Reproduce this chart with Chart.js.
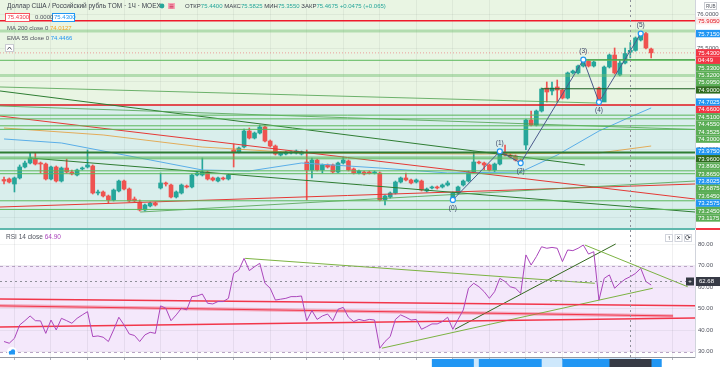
<!DOCTYPE html>
<html>
<head>
<meta charset="utf-8">
<script src="https://cdn.jsdelivr.net/npm/chart.js@4.4.1/dist/chart.umd.min.js"></script>
<style>
  body { margin: 0; background: #fff; overflow: hidden; }
  canvas { display: block; }
</style>
</head>
<body>
<canvas id="priceChart" width="720" height="230"></canvas>
<canvas id="rsiChart" width="720" height="137"></canvas>
<script>
// hourly candles, USD/RUB TOM
const opens = [
  73.559,73.567,73.493,73.582,73.744,73.803,73.862,73.803,73.788,73.567,
  73.744,73.537,73.729,73.670,73.626,73.715,73.744,73.759,73.360,73.375,
  73.316,73.257,73.390,73.537,73.419,73.271,73.227,73.109,73.168,73.212,
  73.434,73.508,73.478,73.301,73.360,73.463,73.449,73.626,73.626,73.670,
  73.582,73.537,73.582,73.567,73.995,73.966,74.040,74.276,74.172,74.246,
  74.335,74.128,74.054,73.921,73.936,73.951,73.951,73.936,73.818,73.700,
  73.847,73.700,73.774,73.774,73.670,73.803,73.833,73.715,73.655,73.670,
  73.670,73.655,73.655,73.257,73.301,73.360,73.522,73.582,73.552,73.522,
  73.537,73.390,73.434,73.449,73.449,73.478,73.257,73.360,73.478,73.537,
  73.670,73.818,73.803,73.774,73.700,73.788,73.951,73.921,73.907,73.847,
  74.069,74.438,74.364,74.571,74.911,74.867,74.926,74.881,74.763,75.133,
  75.133,75.236,75.310,75.236,74.911,74.704,75.221,75.398,75.103,75.280,
  75.440,75.467,75.620,75.715,75.487
];
const highs = [
  73.596,73.582,73.596,73.774,73.833,73.951,73.951,73.818,73.803,73.759,
  73.759,73.744,73.862,73.700,73.715,73.744,73.995,73.774,73.404,73.390,
  73.330,73.419,73.552,73.552,73.434,73.301,73.257,73.198,73.227,73.227,
  73.655,73.522,73.493,73.390,73.493,73.478,73.641,73.670,73.877,73.685,
  73.596,73.596,73.596,73.641,74.084,74.040,74.305,74.320,74.261,74.364,
  74.350,74.143,74.069,73.966,73.980,73.980,73.995,73.980,73.995,73.877,
  73.862,73.788,73.788,73.788,73.818,73.892,73.847,73.729,73.700,73.685,
  73.685,73.685,73.670,73.330,73.375,73.537,73.596,73.655,73.567,73.567,
  73.552,73.434,73.463,73.463,73.493,73.537,73.375,73.463,73.552,73.685,
  73.966,73.833,73.818,73.788,73.803,73.975,74.069,73.936,73.921,73.862,
  74.453,74.571,74.586,74.911,75.000,75.000,75.029,74.896,75.147,75.177,
  75.251,75.330,75.325,75.310,74.926,75.236,75.413,75.502,75.325,75.502,
  75.5825,75.665,75.715,75.735,75.502
];
const lows = [
  73.493,73.508,73.375,73.567,73.729,73.788,73.774,73.655,73.552,73.552,
  73.522,73.522,73.655,73.626,73.611,73.700,73.729,73.345,73.330,73.301,
  73.212,73.242,73.375,73.404,73.227,73.227,73.094,73.094,73.153,73.168,
  73.419,73.463,73.286,73.286,73.345,73.434,73.434,73.611,73.611,73.552,
  73.537,73.522,73.552,73.552,73.744,73.951,74.025,74.158,74.158,74.232,
  74.113,74.040,73.921,73.907,73.921,73.936,73.936,73.921,73.257,73.582,
  73.685,73.655,73.729,73.655,73.655,73.788,73.685,73.641,73.641,73.626,
  73.641,73.641,73.242,73.183,73.286,73.345,73.508,73.537,73.493,73.508,
  73.390,73.375,73.419,73.419,73.434,73.463,73.2575,73.345,73.463,73.522,
  73.655,73.788,73.700,73.685,73.670,73.774,73.907,73.877,73.833,73.8025,
  74.000,74.350,74.350,74.556,74.704,74.808,74.704,74.749,74.749,75.118,
  75.118,75.221,75.221,75.221,74.7025,74.710,75.206,75.118,75.088,75.266,
  75.355,75.455,75.605,75.487,75.354
];
const closes = [
  73.537,73.522,73.582,73.744,73.803,73.877,73.788,73.788,73.567,73.744,
  73.537,73.729,73.670,73.641,73.700,73.729,73.774,73.360,73.375,73.316,
  73.257,73.404,73.537,73.419,73.242,73.242,73.109,73.183,73.212,73.183,
  73.508,73.493,73.301,73.375,73.478,73.449,73.626,73.655,73.670,73.567,
  73.552,73.582,73.567,73.626,73.966,74.025,74.276,74.172,74.246,74.335,
  74.128,74.054,73.936,73.951,73.966,73.966,73.980,73.966,73.700,73.847,
  73.700,73.774,73.744,73.670,73.803,73.847,73.700,73.655,73.685,73.641,
  73.648,73.670,73.257,73.316,73.360,73.522,73.582,73.552,73.508,73.552,
  73.404,73.419,73.449,73.434,73.478,73.508,73.360,73.449,73.537,73.670,
  73.818,73.803,73.774,73.700,73.788,73.951,73.921,73.892,73.847,73.818,
  74.438,74.364,74.571,74.896,74.852,74.911,74.881,74.763,75.133,75.162,
  75.236,75.325,75.236,75.295,74.704,75.221,75.398,75.133,75.280,75.420,
  75.4675,75.650,75.715,75.502,75.430
];
const rsi = [
  34.7,33.9,36.2,42.4,44.4,46.6,44.4,44.3,38.5,44.7,
  40.1,45.5,44.4,43.2,45.5,47.1,48.6,37.0,37.3,36.7,
  34.7,40.1,46.0,42.4,38.2,37.5,34.7,37.8,39.0,38.5,
  51.3,50.2,44.4,47.1,50.2,49.4,55.6,55.9,56.8,52.5,
  52.2,53.3,53.3,54.8,66.4,68.0,73.4,67.7,69.5,71.1,
  61.8,59.5,54.0,54.4,54.8,55.6,55.6,55.9,44.4,49.1,
  45.0,46.6,47.5,44.4,49.7,50.6,46.0,44.0,45.0,44.4,
  45.0,44.7,31.6,34.7,37.0,45.0,47.1,46.0,44.7,45.0,
  40.4,41.6,42.9,42.9,44.0,46.0,40.4,45.0,49.4,59.5,
  61.8,60.2,57.9,54.8,57.9,64.1,62.6,60.2,59.5,57.1,
  75.0,70.3,74.2,78.8,78.1,78.5,78.1,71.9,77.3,77.0,
  78.1,79.6,75.4,76.5,54.0,64.1,65.7,59.5,61.8,63.7,
  64.9,66.4,68.8,62.6,61.0
];

// moving averages (read at a few candles)
const ma200Idx = [0, 19, 38, 57, 91, 114, 124];
const ma200Val = [74.320, 74.217, 74.039, 73.951, 73.936, 73.951, 74.054];
const ema55Idx = [0, 11, 28, 38, 47, 57, 72, 85, 99, 106, 114, 120, 124];
const ema55Val = [74.158, 74.099, 73.848, 73.700, 73.685, 73.803, 73.729, 73.656, 73.670, 73.921, 74.276, 74.483, 74.616];

// elliott wave
const waveNames = ['(0)', '(1)', '(2)', '(3)', '(4)', '(5)'];
const waveIdx = [86, 95, 99, 111, 114, 122];
const wavePrice = [73.2575, 73.975, 73.8025, 75.33, 74.7025, 75.715];

// drawings
const redTop = 75.905;
const redMid = 74.66;
const lastPrice = 75.43;
const timerText = '04:49';
const greenLevels = [75.32, 74.51, 74.455, 74.3525, 74.30, 73.89, 73.865, 73.6875, 73.645, 73.245, 73.1175];
const paleLevels = [75.753, 75.095];
const darkLevels = [73.96];
const greenRays = [[111, 75.33]];
const darkRays = [[103, 74.90]];
const greenTrends = [[[-0.77, 74.926], [113.6, 74.689]], [[-0.77, 74.645], [132.4, 74.298]], [[26.1, 73.079], [132.4, 73.537]]];
const darkTrends = [[[-0.77, 74.867], [111.3, 73.774]], [[5, 73.877], [132.4, 73.079]]];
const redTrends = [[[-0.77, 74.497], [132.4, 73.271]], [[-0.77, 73.153], [132.4, 73.493]]];

const rsiRed = [[[-0.77, 54.5], [132.4, 51.3]], [[-0.77, 41.5], [132.4, 45.7]]];
const rsiPink = [[[-0.77, 51.3], [128.2, 46.6]]];
const rsiGreen = [[[72.4, 31.6], [124.3, 59.5]], [[46.2, 73.4], [113.2, 61.8]], [[111.3, 79.6], [131.0, 60.2]]];
const rsiDark = [[[86.4, 40.4], [117.2, 80.1]]];
const rsiBand = [30, 70];

const gridIdx = [2, 9, 16, 23, 30, 37, 44, 51, 58, 65, 72, 79, 86, 93, 100, 107, 114, 121, 128];
const cursorIdx = 120;
const cursorRsi = 62.68;

const FONT = '"Liberation Sans", Arial, sans-serif';
const UP = '#26a69a', DOWN = '#ef5350';
const X_MIN = -0.77, X_MAX = 132.4;

const idx = opens.map((_, i) => i);
const candleColor = idx.map(i => closes[i] >= opens[i] ? UP : DOWN);

function seg(pts, color, width, order, dash) {
  return {
    type: 'line',
    data: pts.map(([x, y]) => ({ x, y })),
    borderColor: color,
    borderWidth: width,
    borderDash: dash || [],
    pointRadius: 0,
    fill: false,
    order: order
  };
}
const flat = (p) => [[X_MIN, p], [X_MAX, p]];

const priceSets = [
  {
    type: 'bar', label: 'body',
    data: idx.map(i => ({ x: i, y: [opens[i], closes[i]] })),
    backgroundColor: candleColor, barThickness: 4, minBarLength: 1, grouped: false, order: 5
  },
  {
    type: 'bar', label: 'wick',
    data: idx.map(i => ({ x: i, y: [lows[i], highs[i]] })),
    backgroundColor: candleColor, barThickness: 1, grouped: false, order: 6
  },
  seg(ma200Idx.map((v, k) => [v, ma200Val[k]]), 'rgba(230,150,40,0.75)', 1, 4),
  seg(ema55Idx.map((v, k) => [v, ema55Val[k]]), '#5aaee8', 1, 4)
];
paleLevels.forEach(p => priceSets.push(seg(flat(p), 'rgba(110,190,110,0.45)', 3, 3)));
greenLevels.forEach(p => priceSets.push(seg(flat(p), '#5cb85c', 1, 2)));
darkLevels.forEach(p => priceSets.push(seg(flat(p), '#2e7d32', 2, 2)));
greenRays.forEach(([i, p]) => priceSets.push(seg([[i, p], [X_MAX, p]], '#43a047', 1, 2)));
darkRays.forEach(([i, p]) => priceSets.push(seg([[i, p], [X_MAX, p]], '#1b5e20', 1.2, 2)));
greenTrends.forEach(t => priceSets.push(seg(t, 'rgba(76,160,76,0.8)', 1, 2)));
darkTrends.forEach(t => priceSets.push(seg(t, '#2e7d32', 1, 2)));
redTrends.forEach(t => priceSets.push(seg(t, '#e53935', 1, 2)));
priceSets.push(seg(flat(redTop), '#f0192a', 1.5, 2));
priceSets.push(seg(flat(redMid), '#e0141f', 1.5, 2));
priceSets.push(seg(flat(lastPrice), 'rgba(242,54,69,0.45)', 1, 2, [1, 2]));
const WAVE_SET = priceSets.length;
priceSets.push({
  type: 'line', label: 'wave',
  data: waveIdx.map((v, k) => ({ x: v, y: wavePrice[k] })),
  borderColor: '#4b5a8c', borderWidth: 1,
  pointRadius: 2.5, pointBackgroundColor: '#fff', pointBorderColor: '#2196f3', pointBorderWidth: 1.2,
  order: 0
});

function textRun(ctx, x, y, parts) {
  for (const [t, c] of parts) {
    ctx.fillStyle = c;
    ctx.fillText(t, x, y);
    x += ctx.measureText(t).width;
  }
  return x;
}

const pricePanel = {
  id: 'pricePanel',
  beforeDraw(chart) {
    const { ctx, chartArea: a, scales: { y } } = chart;
    ctx.save();
    ctx.fillStyle = '#fff';
    ctx.fillRect(0, 0, chart.width, chart.height);
    const ys = y.getPixelForValue(redMid);
    ctx.fillStyle = '#e9f5e3';
    ctx.fillRect(a.left, a.top, a.width, ys - a.top);
    ctx.fillStyle = '#d9eeec';
    ctx.fillRect(a.left, ys, a.width, a.bottom - ys);
    ctx.fillStyle = '#5fb8ad';
    ctx.fillRect(0, a.bottom, a.right, chart.height - a.bottom);
    ctx.fillStyle = '#f23645';
    ctx.fillRect(a.right + 1, a.bottom, chart.width - a.right, chart.height - a.bottom);
    ctx.restore();
  },
  afterDraw(chart) {
    const { ctx, chartArea: a, scales: { x, y } } = chart;
    ctx.save();

    // crosshair
    const cx = Math.round(x.getPixelForValue(cursorIdx)) + 0.5;
    ctx.strokeStyle = '#8e9099';
    ctx.lineWidth = 1;
    ctx.setLineDash([2, 3]);
    ctx.beginPath(); ctx.moveTo(cx, a.top); ctx.lineTo(cx, a.bottom); ctx.stroke();
    ctx.setLineDash([]);

    // wave labels
    ctx.font = '6.5px ' + FONT;
    ctx.textAlign = 'center';
    ctx.textBaseline = 'middle';
    ctx.fillStyle = '#3d4668';
    const wm = chart.getDatasetMeta(WAVE_SET);
    wm.data.forEach((pt, k) => {
      const below = k % 2 === 0;
      ctx.fillText(waveNames[k], pt.x, pt.y + (below ? 8.5 : -8.5));
    });

    // price axis labels, pushed down so they don't overlap
    const labels = [];
    labels.push({ p: redTop, text: redTop.toFixed(4), bg: '#fdecec', fg: '#e0141f' });
    labels.push({ p: redMid, text: redMid.toFixed(4), bg: '#f23645', fg: '#fff' });
    labels.push({ p: lastPrice, text: lastPrice.toFixed(4), bg: '#f23645', fg: '#fff' });
    labels.push({ p: lastPrice - 1e-6, text: timerText, bg: '#f23645', fg: '#fff' });
    [0, 1, 2, 4, 5].forEach(k => labels.push({ p: wavePrice[k], text: wavePrice[k].toFixed(4), bg: '#2196f3', fg: '#fff' }));
    greenRays.forEach(([, p]) => labels.push({ p, text: p.toFixed(4), bg: '#5aad55', fg: '#fff' }));
    greenLevels.concat([75.095]).forEach(p => labels.push({ p, text: p.toFixed(4), bg: '#5aad55', fg: '#fff' }));
    darkRays.forEach(([, p]) => labels.push({ p, text: p.toFixed(4), bg: '#2e6b1e', fg: '#fff' }));
    darkLevels.forEach(p => labels.push({ p, text: p.toFixed(4), bg: '#2e6b1e', fg: '#fff' }));
    labels.sort((m, n) => n.p - m.p);
    const H = 7.4;
    let prev = -100;
    ctx.font = '6px ' + FONT;
    ctx.textAlign = 'left';
    for (const L of labels) {
      const yy = Math.max(y.getPixelForValue(L.p), prev + H);
      prev = yy;
      ctx.fillStyle = L.bg;
      ctx.fillRect(a.right + 1, yy - H / 2, chart.width - a.right - 1, H);
      ctx.fillStyle = L.fg;
      ctx.fillText(L.text, a.right + 3, yy + 0.3);
    }

    // currency tag
    ctx.strokeStyle = '#c9cbd1';
    ctx.strokeRect(704.5, 2.5, 12, 7);
    ctx.fillStyle = '#50535e';
    ctx.font = '4.5px ' + FONT;
    ctx.fillText('RUB', 706, 6.3);

    // legend
    ctx.font = '6.5px ' + FONT;
    ctx.textAlign = 'left';
    ctx.textBaseline = 'middle';
    textRun(ctx, 7, 6, [['Доллар США / Российский рубль TOM · 1Ч · MOEX', '#3a3e4a']]);
    ctx.fillStyle = '#26a69a';
    ctx.beginPath(); ctx.arc(162, 6, 2.4, 0, Math.PI * 2); ctx.fill();
    ctx.fillStyle = '#f6a5b5';
    ctx.fillRect(168, 3, 7, 6);
    ctx.fillStyle = '#d23a62';
    ctx.fillRect(169.5, 4.5, 4, 0.8); ctx.fillRect(169.5, 6, 4, 0.8); ctx.fillRect(169.5, 7.5, 4, 0.8);
    ctx.font = '6px ' + FONT;
    textRun(ctx, 185, 6, [
      ['ОТКР', '#3a3e4a'], ['75.4400', UP], [' МАКС', '#3a3e4a'], ['75.5825', UP],
      [' МИН', '#3a3e4a'], ['75.3550', UP], [' ЗАКР', '#3a3e4a'], ['75.4675', UP], [' +0.0475 (+0.065)', UP]
    ]);

    ctx.fillStyle = '#fff';
    ctx.fillRect(5, 13, 25, 9); ctx.fillRect(52, 13, 23, 9);
    ctx.strokeStyle = '#f7525f'; ctx.strokeRect(5.5, 13.5, 24, 8);
    ctx.strokeStyle = '#2196f3'; ctx.strokeRect(52.5, 13.5, 22, 8);
    textRun(ctx, 7.5, 17.8, [['75.4300', '#f23645']]);
    textRun(ctx, 35, 17.8, [['0.0000', '#50535e']]);
    textRun(ctx, 54, 17.8, [['75.4300', '#2196f3']]);

    textRun(ctx, 7, 28.5, [['MA 200 close 0 ', '#50535e'], ['74.0127', '#f5a623']]);
    textRun(ctx, 7, 38.5, [['EMA 55 close 0 ', '#50535e'], ['74.4466', '#2196f3']]);
    ctx.fillStyle = '#fff';
    ctx.fillRect(5, 44, 9, 8);
    ctx.strokeStyle = '#c9cbd1'; ctx.strokeRect(5.5, 44.5, 8, 7);
    ctx.strokeStyle = '#50535e';
    ctx.beginPath(); ctx.moveTo(7.5, 49.5); ctx.lineTo(9.5, 47); ctx.lineTo(11.5, 49.5); ctx.stroke();
    ctx.restore();
  }
};

new Chart(document.getElementById('priceChart'), {
  type: 'bar',
  data: { datasets: priceSets },
  options: {
    responsive: false,
    animation: false,
    events: [],
    layout: { autoPadding: false, padding: { left: 0, right: 0, top: 0, bottom: 2 } },
    plugins: { legend: { display: false }, tooltip: { enabled: false } },
    scales: {
      x: {
        type: 'linear', min: X_MIN, max: X_MAX, offset: false,
        afterBuildTicks: s => { s.ticks = gridIdx.map(v => ({ value: v })); },
        afterFit: s => { s.height = 0; s.paddingLeft = 0; s.paddingRight = 0; },
        ticks: { display: false },
        grid: { color: 'rgba(42,46,57,0.06)', drawTicks: false, offset: false },
        border: { display: false }
      },
      y: {
        position: 'right', min: 72.843, max: 76.2108,
        afterFit: s => { s.width = 25; s.paddingTop = 0; s.paddingBottom = 0; },
        ticks: {
          stepSize: 0.5, includeBounds: false, padding: 2,
          callback: v => v.toFixed(4),
          font: { size: 6, family: FONT }, color: '#50535e'
        },
        grid: { color: 'rgba(42,46,57,0.06)', drawTicks: false },
        border: { color: '#d1d4dc' }
      }
    }
  },
  plugins: [pricePanel]
});

// RSI pane
const rsiSets = [
  {
    type: 'line', label: 'RSI',
    data: idx.map(i => ({ x: i, y: rsi[i] })),
    borderColor: '#ab47bc', borderWidth: 1, pointRadius: 0, order: 0
  }
];
rsiPink.forEach(t => rsiSets.push(seg(t, 'rgba(242,54,80,0.35)', 3.5, 3)));
rsiPink.forEach(t => rsiSets.push(seg(t, '#f2364a', 1, 2)));
rsiRed.forEach(t => rsiSets.push(seg(t, '#f2364a', 1.5, 2)));
rsiGreen.forEach(t => rsiSets.push(seg(t, '#7cb342', 1, 2)));
rsiDark.forEach(t => rsiSets.push(seg(t, '#33691e', 1, 2)));

const rsiPanel = {
  id: 'rsiPanel',
  beforeDraw(chart) {
    const { ctx, chartArea: a, scales: { y } } = chart;
    ctx.save();
    ctx.fillStyle = '#fff';
    ctx.fillRect(0, 0, chart.width, chart.height);
    const y70 = y.getPixelForValue(rsiBand[1]);
    const y30 = y.getPixelForValue(rsiBand[0]);
    ctx.fillStyle = '#f4e8fb';
    ctx.fillRect(a.left, y70, a.width, y30 - y70);
    ctx.strokeStyle = '#b9a4c6';
    ctx.setLineDash([3, 3]);
    ctx.lineWidth = 1;
    [y70, y30].forEach(v => {
      ctx.beginPath(); ctx.moveTo(a.left, Math.round(v) + 0.5); ctx.lineTo(a.right, Math.round(v) + 0.5); ctx.stroke();
    });
    ctx.restore();
  },
  afterDraw(chart) {
    const { ctx, chartArea: a, scales: { x, y } } = chart;
    ctx.save();
    const cx = Math.round(x.getPixelForValue(cursorIdx)) + 0.5;
    const cy = Math.round(y.getPixelForValue(cursorRsi)) + 0.5;
    ctx.strokeStyle = '#8e9099';
    ctx.lineWidth = 1;
    ctx.setLineDash([2, 3]);
    ctx.beginPath(); ctx.moveTo(cx, a.top); ctx.lineTo(cx, a.bottom); ctx.stroke();
    ctx.beginPath(); ctx.moveTo(a.left, cy); ctx.lineTo(a.right, cy); ctx.stroke();
    ctx.setLineDash([]);

    // crosshair value
    ctx.fillStyle = '#363a45';
    ctx.fillRect(a.right + 1, cy - 4.5, chart.width - a.right, 9);
    ctx.fillRect(a.right - 9, cy - 4, 8, 8);
    ctx.fillStyle = '#fff';
    ctx.font = '6px ' + FONT;
    ctx.textBaseline = 'middle';
    ctx.textAlign = 'left';
    ctx.fillText(cursorRsi.toFixed(2), a.right + 4, cy + 0.3);
    ctx.textAlign = 'center';
    ctx.fillText('+', a.right - 5, cy);

    // pane buttons
    ['↑', '×', '⟳'].forEach((t, k) => {
      const bx = 665 + k * 9.5;
      ctx.fillStyle = '#fff';
      ctx.fillRect(bx, 4, 8, 8);
      ctx.strokeStyle = '#d1d4dc';
      ctx.strokeRect(bx + 0.5, 4.5, 7, 7);
      ctx.fillStyle = '#2a2e39';
      ctx.font = '6.5px ' + FONT;
      ctx.fillText(t, bx + 4, 8.3);
    });

    // legend
    ctx.textAlign = 'left';
    ctx.font = '6.5px ' + FONT;
    textRun(ctx, 6, 7.5, [['RSI 14 close ', '#50535e'], [rsi[cursorIdx].toFixed(2), '#ab47bc']]);

    // time axis: wave range highlight and labels (text cut off by the window)
    const bot = a.bottom + 1;
    const px = v => x.getPixelForValue(v);
    ctx.fillStyle = 'rgba(33,150,243,0.22)';
    ctx.fillRect(px(waveIdx[0]), bot, px(waveIdx[5]) - px(waveIdx[0]), chart.height - bot);
    ctx.fillStyle = '#2196f3';
    waveIdx.forEach(v => ctx.fillRect(px(v) - 21, bot + 1, 42, chart.height - bot));
    ctx.fillStyle = '#363a45';
    ctx.fillRect(cx - 21, bot + 1, 42, chart.height - bot);

    // cloud badge
    ctx.fillStyle = '#fff';
    ctx.beginPath(); ctx.arc(12, a.bottom - 5, 5, 0, Math.PI * 2); ctx.fill();
    ctx.fillStyle = '#2196f3';
    ctx.beginPath(); ctx.arc(10.5, a.bottom - 4.5, 1.8, 0, Math.PI * 2); ctx.arc(13, a.bottom - 5.5, 2.2, 0, Math.PI * 2); ctx.fill();
    ctx.fillRect(9, a.bottom - 4.5, 6, 2);
    ctx.restore();
  }
};

new Chart(document.getElementById('rsiChart'), {
  type: 'line',
  data: { datasets: rsiSets },
  options: {
    responsive: false,
    animation: false,
    events: [],
    layout: { autoPadding: false, padding: 0 },
    plugins: { legend: { display: false }, tooltip: { enabled: false } },
    scales: {
      x: {
        type: 'linear', min: X_MIN, max: X_MAX,
        afterBuildTicks: s => { s.ticks = gridIdx.map(v => ({ value: v })); },
        afterFit: s => { s.height = 10; s.paddingLeft = 0; s.paddingRight = 0; },
        ticks: { display: false },
        grid: { color: 'rgba(42,46,57,0.07)', drawTicks: true, tickLength: 3, tickColor: '#b2b5be' },
        border: { color: '#9598a1' }
      },
      y: {
        position: 'right', min: 27.5, max: 86.6,
        afterFit: s => { s.width = 25; s.paddingTop = 0; s.paddingBottom = 0; },
        ticks: {
          stepSize: 10, includeBounds: false, padding: 3,
          callback: v => v.toFixed(2),
          font: { size: 6, family: FONT }, color: '#50535e'
        },
        grid: { color: 'rgba(42,46,57,0.06)', drawTicks: false },
        border: { color: '#d1d4dc' }
      }
    }
  },
  plugins: [rsiPanel]
});
</script>
</body>
</html>
